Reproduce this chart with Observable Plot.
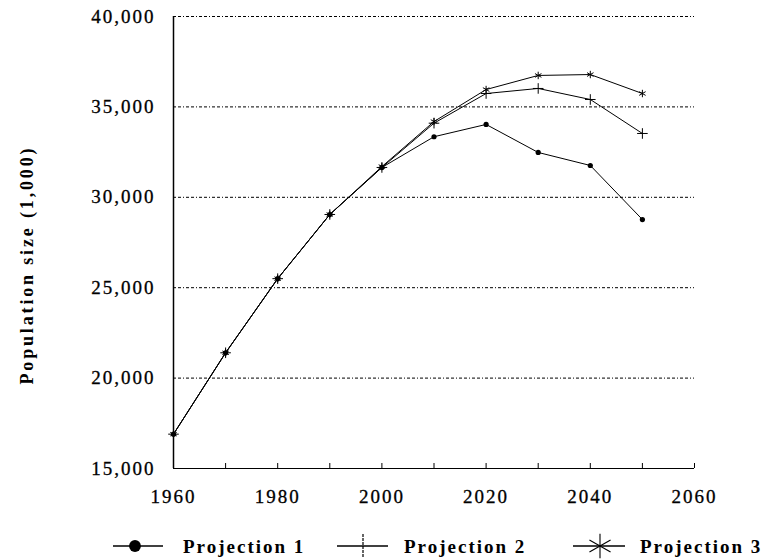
<!DOCTYPE html>
<html>
<head>
<meta charset="utf-8">
<script src="https://cdn.jsdelivr.net/npm/d3@7"></script>
<script src="https://cdn.jsdelivr.net/npm/@observablehq/plot@0.6"></script>
<style>
  body { margin: 0; background: white; font-family: "Liberation Serif", serif; }
  #wrap { position: relative; width: 765px; height: 559px; }
  .leg { position: absolute; top: 522px; height: 37px; display: flex; align-items: center; }
  .leg span { font-weight: bold; font-size: 19px; letter-spacing: 2px; color: black; }
</style>
</head>
<body>
<div id="wrap"></div>
<script>
const years = [1960, 1970, 1980, 1990, 2000, 2010, 2020, 2030, 2040, 2050];
const projection1 = [16900, 21400, 25500, 29050, 31650, 33350, 34030, 32480, 31760, 28770];
const projection2 = [16900, 21400, 25500, 29050, 31650, 34100, 35740, 36020, 35410, 33530];
const projection3 = [16900, 21400, 25500, 29050, 31700, 34190, 35960, 36740, 36790, 35740];
const seriesNames = ["Projection 1", "Projection 2", "Projection 3"];
const yTicks = [15000, 20000, 25000, 30000, 35000, 40000];
const gridValues = [20000, 25000, 30000, 35000, 40000];
const xLabelTicks = [1960, 1980, 2000, 2020, 2040, 2060];
const xMinorTicks = [1960, 1970, 1980, 1990, 2000, 2010, 2020, 2030, 2040, 2050, 2060];
const yLabel = "Population size (1,000)";

const allSeries = [projection1, projection2, projection3];
const rows = [];
allSeries.forEach((vals, s) => vals.forEach((v, i) => rows.push({year: years[i], value: v, series: seriesNames[s]})));
const symbolFor = {"Projection 1": "circle", "Projection 2": "plus", "Projection 3": "asterisk"};

const chart = Plot.plot({
  width: 765,
  height: 522,
  marginLeft: 173,
  marginRight: 71,
  marginTop: 16,
  marginBottom: 54,
  style: {fontFamily: "Liberation Serif", fontSize: "19px", color: "black", background: "white"},
  x: {domain: [1960, 2060]},
  y: {domain: [15000, 40000]},
  marks: [
    Plot.ruleY(gridValues, {stroke: "black", strokeWidth: 1, strokeDasharray: "3,2,3,2,1,2"}),
    Plot.axisY(yTicks, {tickSize: 0, tickPadding: 18, fontSize: 19, tickFormat: d3.format(","), label: null}),
    Plot.axisX(xLabelTicks, {tickSize: 0, tickPadding: 21, fontSize: 19, tickFormat: d => String(d), label: null}),
    Plot.axisX(xMinorTicks, {tickSize: -5, tickFormat: () => "", label: null}),
    Plot.ruleY([15000], {stroke: "black", strokeWidth: 1.2}),
    Plot.ruleX([1960], {stroke: "black", strokeWidth: 1.5}),
    Plot.line(rows, {x: "year", y: "value", z: "series", stroke: "black", strokeWidth: 1}),
    Plot.dot(rows.filter(d => d.series === "Projection 1"), {x: "year", y: "value", symbol: "circle", r: 2.6, fill: "black"}),
    Plot.dot(rows.filter(d => d.series === "Projection 2"), {x: "year", y: "value", symbol: "plus", r: 3.5, stroke: "black", strokeWidth: 1}),
    Plot.dot(rows.filter(d => d.series === "Projection 3"), {x: "year", y: "value", symbol: "asterisk", r: 3.5, stroke: "black", strokeWidth: 1}),
    Plot.text([yLabel], {frameAnchor: "left", textAnchor: "middle", rotate: -90, dx: -146, dy: 24, fontWeight: "bold", fontSize: 18, fill: "black"})
  ]
});
const svgSel = d3.select(chart);
svgSel.selectAll("text")
  .filter(function() { return this.textContent !== yLabel && this.textContent !== ""; })
  .style("letter-spacing", "2px").style("font-size", "19px")
  .attr("stroke", "black").attr("stroke-width", 0.3);
svgSel.selectAll("text")
  .filter(function() { return this.textContent === yLabel; })
  .attr("textLength", 236).attr("lengthAdjust", "spacing");
const wrap = document.getElementById("wrap");
wrap.appendChild(chart);

// Legend
const legendItems = [
  {name: seriesNames[0], x1: 113, x2: 163, cx: 135, tx: 183},
  {name: seriesNames[1], x1: 337, x2: 388, cx: 363, tx: 404},
  {name: seriesNames[2], x1: 573, x2: 625, cx: 600, tx: 640}
];
legendItems.forEach(item => {
  const svg = d3.create("svg").attr("width", 765).attr("height", 37)
    .style("position", "absolute").style("left", "0px").style("top", "522px");
  svg.append("line").attr("x1", item.x1).attr("x2", item.x2).attr("y1", 24).attr("y2", 24).attr("stroke", "black").attr("stroke-width", 1.3);
  const kind = symbolFor[item.name];
  if (kind === "circle") {
    svg.append("path").attr("d", d3.symbol().type(d3.symbolCircle).size(110)()).attr("transform", `translate(${item.cx},24)`).attr("fill", "black");
  } else if (kind === "plus") {
    svg.append("line").attr("x1", item.cx).attr("x2", item.cx).attr("y1", 12).attr("y2", 36).attr("stroke", "black").attr("stroke-width", 1.2).attr("stroke-dasharray", "3,1");
  } else {
    svg.append("path").attr("d", d3.symbol().type(d3.symbolAsterisk).size(420)()).attr("transform", `translate(${item.cx},24)`).attr("fill", "none").attr("stroke", "black").attr("stroke-width", 1.1);
  }
  wrap.appendChild(svg.node());
  const span = document.createElement("div");
  span.className = "leg";
  span.style.left = item.tx + "px";
  span.style.top = "528px";
  span.style.height = "37px";
  span.innerHTML = `<span>${item.name}</span>`;
  wrap.appendChild(span);
});
</script>
</body>
</html>
